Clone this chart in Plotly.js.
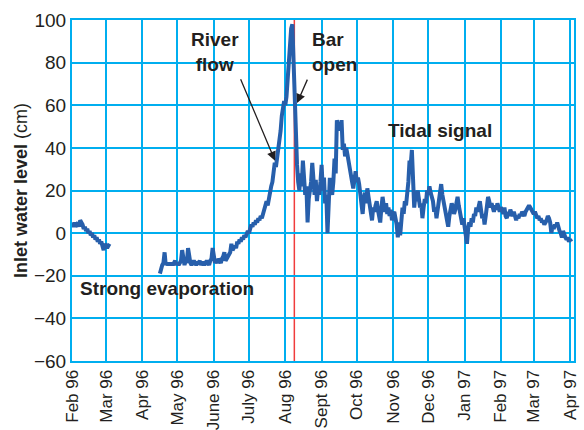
<!DOCTYPE html>
<html>
<head>
<meta charset="utf-8">
<script src="https://cdn.plot.ly/plotly-3.0.1.min.js"></script>
<style>html,body{margin:0;padding:0;background:#fff;}#chart{width:584px;height:430px;}</style>
</head>
<body>
<div id="chart"></div>
<script>
// Segment 1: daily levels starting 1 Feb 1996 (cm)
const seg1Start = '1996-02-01';
const seg1Levels = [4,3,5,3,4,5,3,6,5,4,2,3,1,2,0,1,-1,0,-2,-1,-3,-2,-4,-3,-5,-4,-6,-8,-5,-6,-7,-6,-5];

// Segment 2: daily levels starting 16 Apr 1996 (cm)
const seg2Start = '1996-04-16';
const seg2Levels = [
  -19,-16,-15,-14,-9,-15,-14,-15,-14,-15,
  -14,-15,-14,-13,-15,-14,-15,-14,-13,-8,
  -14,-15,-13,-14,-7,-13,-14,-15,-14,-13,
  -14,-15,-14,-14,-13,-15,-14,-14,-15,-14,
  -13,-14,-15,-13,-12,-7,-12,-14,-13,-14,
  -12,-13,-14,-12,-11,-9,-13,-12,-11,-10,
  -9,-5,-8,-7,-6,-7,-4,-5,-3,-4,
  -2,-3,-1,-2,0,1,0,2,4,3,
  5,4,6,5,7,6,8,7,9,11,
  12,15,13,17,19,22,24,28,33,31,
  35,38,42,48,55,58,62,60,64,72,
  82,92,96,98,78,60,46,32,24,20,
  28,22,34,25,18,22,5,16,20,24,
  33,22,18,25,15,21,18,24,32,20,
  26,14,18,0,15,26,20,18,24,35,
  28,53,50,52,48,53,39,42,36,40,
  37,33,31,26,24,21,25,29,24,26,
  23,18,14,9,16,19,14,21,17,12,
  9,6,12,10,13,15,11,8,5,12,
  17,13,10,14,9,12,8,11,6,9,
  10,7,4,-2,5,-1,8,12,9,15,
  13,17,24,34,32,39,28,12,18,15,
  20,17,12,14,7,12,16,14,20,18,
  22,19,17,15,10,12,7,11,16,20,
  23,18,14,12,9,6,3,8,11,14,
  12,9,11,14,17,13,9,6,4,7,
  3,0,-5,2,5,3,7,5,9,8,
  12,10,13,15,11,7,9,4,8,13,
  17,15,12,14,12,10,13,11,14,12,
  10,12,11,9,12,8,7,10,8,11,
  9,8,10,7,6,8,7,9,8,10,
  9,8,10,11,12,13,12,11,10,9,
  10,8,7,8,6,7,5,6,4,5,
  6,8,7,5,0,3,2,4,3,5,
  2,1,0,-2,1,-1,-2,-3,-2,-4,
  -3,-4
];

const tickDates = ['1996-02-01','1996-03-01','1996-04-01','1996-05-01','1996-06-01','1996-07-01','1996-08-01','1996-09-01','1996-10-01','1996-11-01','1996-12-01','1997-01-01','1997-02-01','1997-03-01','1997-04-01'];
const tickLabels = ['Feb 96','Mar 96','Apr 96','May 96','June 96','July 96','Aug 96','Sept 96','Oct 96','Nov 96','Dec 96','Jan 97','Feb 97','Mar 97','Apr 97'];

const barOpenDate = '1996-08-08 17:00';

function dailyDates(start, n) {
  const t0 = Date.parse(start + 'T00:00:00Z');
  const out = [];
  for (let i = 0; i < n; i++) {
    out.push(new Date(t0 + i * 86400000).toISOString().slice(0, 10));
  }
  return out;
}

const x = dailyDates(seg1Start, seg1Levels.length).concat([null], dailyDates(seg2Start, seg2Levels.length));
const y = seg1Levels.concat([null], seg2Levels);

const FONT = '"Liberation Sans", Arial, Helvetica, sans-serif';
const GRID = '#00aeef';
const INK = '#231f20';

const trace = {
  x: x, y: y, type: 'scatter', mode: 'lines',
  connectgaps: false,
  line: {color: '#275fab', width: 4},
  hoverinfo: 'skip'
};

const layout = {
  width: 584, height: 430,
  margin: {l: 72, r: 10, t: 20, b: 69},
  paper_bgcolor: '#ffffff', plot_bgcolor: '#ffffff',
  showlegend: false,
  font: {family: FONT, color: INK, size: 19},
  xaxis: {
    type: 'date',
    range: ['1996-02-01', '1997-04-04 08:00'],
    tickmode: 'array', tickvals: tickDates, ticktext: tickLabels,
    tickangle: -90,
    tickfont: {family: FONT, size: 17, color: INK},
    showgrid: true, gridcolor: GRID, gridwidth: 2,
    showline: true, linecolor: GRID, linewidth: 2, mirror: true,
    ticks: '', zeroline: false
  },
  yaxis: {
    range: [-60, 100], dtick: 20, tick0: 0,
    tickfont: {family: FONT, size: 19, color: INK},
    showgrid: true, gridcolor: GRID, gridwidth: 2,
    showline: true, linecolor: GRID, linewidth: 2, mirror: true,
    ticks: '', zeroline: false,
    title: {text: '<b>Inlet water level</b> (cm)', font: {family: FONT, size: 18, color: INK}, standoff: 2}
  },
  shapes: [{
    type: 'line', xref: 'x', yref: 'paper',
    x0: barOpenDate, x1: barOpenDate, y0: 0, y1: 1,
    line: {color: '#f03c3c', width: 1.5}, layer: 'below'
  }],
  annotations: [
    {xref: 'paper', yref: 'paper', x: 0.285, y: 0.906, xanchor: 'center', yanchor: 'middle', align: 'center',
     text: '<b>River<br>flow</b>', showarrow: false, font: {family: FONT, size: 19, color: INK}},
    {xref: 'paper', yref: 'paper', x: 0.474, y: 0.906, xanchor: 'left', yanchor: 'middle', align: 'left',
     text: '<b>Bar<br>open</b>', showarrow: false, font: {family: FONT, size: 19, color: INK}},
    {xref: 'paper', yref: 'paper', x: 0.625, y: 0.677, xanchor: 'left', yanchor: 'middle',
     text: '<b>Tidal signal</b>', showarrow: false, font: {family: FONT, size: 19, color: INK}},
    {xref: 'paper', yref: 'paper', x: 0.012, y: 0.214, xanchor: 'left', yanchor: 'middle',
     text: '<b>Strong evaporation</b>', showarrow: false, font: {family: FONT, size: 19, color: INK}},
    {xref: 'x', yref: 'y', x: '1996-07-23 05:00', y: 34, text: '', showarrow: true,
     ax: -35, ay: -83, arrowhead: 2, arrowsize: 1.4, arrowwidth: 1.3, arrowcolor: INK, standoff: 0},
    {xref: 'x', yref: 'y', x: '1996-08-11 00:00', y: 61, text: '', showarrow: true,
     ax: 11, ay: -25, arrowhead: 2, arrowsize: 1.4, arrowwidth: 1.3, arrowcolor: INK, standoff: 0}
  ]
};

Plotly.newPlot('chart', [trace], layout, {displayModeBar: false, staticPlot: true});
</script>
</body>
</html>
